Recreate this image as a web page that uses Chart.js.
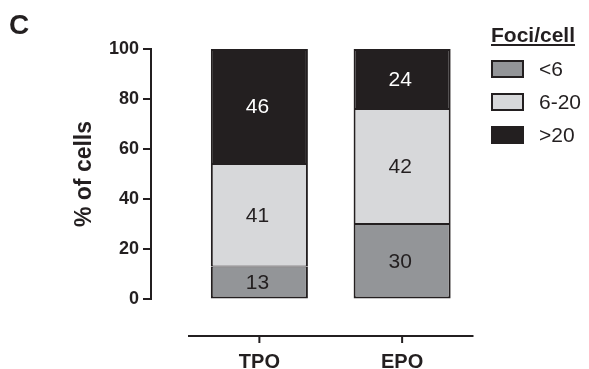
<!DOCTYPE html>
<html>
<head>
<meta charset="utf-8">
<script src="https://cdn.jsdelivr.net/npm/chart.js@4.4.1/dist/chart.umd.min.js"></script>
<style>
  html, body { margin: 0; padding: 0; background: #ffffff; }
  #wrap { width: 589px; height: 369px; }
</style>
</head>
<body>
<div id="wrap"><canvas id="myChart" width="589" height="369"></canvas></div>
<script>
// data
const categories = ["TPO", "EPO"];
const focusGroups = ["<6", "6-20", ">20"];
const lowValues = [13, 30];      // <6 foci/cell
const midValues = [41, 46];      // 6-20 foci/cell (bar heights)
const highValues = [46, 24];     // >20 foci/cell
// numbers printed inside the segments
const lowLabels = ["13", "30"];
const midLabels = ["41", "42"];
const highLabels = ["46", "24"];
const yTicks = [0, 20, 40, 60, 80, 100];

const INK = "#231f20";
const FONT = "'Liberation Sans', Arial, Helvetica, sans-serif";
const segColors = ["#939598", "#d7d8da", "#231f20"];
const segText = [INK, INK, "#ffffff"];

// axes are drawn detached from the plot, like the Prism original
const detachedAxes = {
  id: "detachedAxes",
  afterDraw(chart) {
    const { ctx, chartArea, scales } = chart;
    const y = scales.y, x = scales.x;
    ctx.save();
    ctx.strokeStyle = INK;
    ctx.lineWidth = 2;
    ctx.lineCap = "butt";

    const axisX = 151;
    ctx.beginPath();
    ctx.moveTo(axisX, y.getPixelForValue(100) - 1);
    ctx.lineTo(axisX, y.getPixelForValue(0) + 1);
    ctx.stroke();
    yTicks.forEach(v => {
      const py = y.getPixelForValue(v);
      ctx.beginPath();
      ctx.moveTo(143, py);
      ctx.lineTo(axisX, py);
      ctx.stroke();
    });

    const axisY = 336;
    ctx.beginPath();
    ctx.moveTo(chartArea.left, axisY);
    ctx.lineTo(chartArea.right, axisY);
    ctx.stroke();
    categories.forEach((c, i) => {
      const px = x.getPixelForValue(i);
      ctx.beginPath();
      ctx.moveTo(px, axisY);
      ctx.lineTo(px, axisY + 7);
      ctx.stroke();
    });
    ctx.restore();
  }
};

const segmentLabels = {
  id: "segmentLabels",
  afterDatasetsDraw(chart) {
    const { ctx } = chart;
    const texts = [lowLabels, midLabels, highLabels];
    ctx.save();
    ctx.font = "21px " + FONT;
    ctx.textAlign = "center";
    ctx.textBaseline = "middle";
    chart.data.datasets.forEach((ds, di) => {
      const meta = chart.getDatasetMeta(di);
      meta.data.forEach((bar, i) => {
        const p = bar.getCenterPoint();
        ctx.fillStyle = segText[di];
        ctx.fillText(texts[di][i], p.x - 2, p.y + 1);
      });
    });
    ctx.restore();
  }
};

const sideLegend = {
  id: "sideLegend",
  afterDraw(chart) {
    const { ctx } = chart;
    ctx.save();
    ctx.fillStyle = INK;
    ctx.font = "bold 28px " + FONT;
    ctx.textBaseline = "alphabetic";
    ctx.fillText("C", 9, 34);

    ctx.font = "bold 21px " + FONT;
    const title = "Foci/cell";
    ctx.fillText(title, 491, 42);
    const w = ctx.measureText(title).width;
    ctx.fillRect(491, 44, w, 2);

    ctx.font = "21px " + FONT;
    ctx.textBaseline = "middle";
    chart.data.datasets.forEach((ds, i) => {
      const cy = 69 + i * 33;
      ctx.fillStyle = ds.backgroundColor;
      ctx.fillRect(492, cy - 8, 31, 16);
      ctx.strokeStyle = INK;
      ctx.lineWidth = 2;
      ctx.strokeRect(492, cy - 8, 31, 16);
      ctx.fillStyle = INK;
      ctx.fillText(ds.label, 539, cy + 1);
    });
    ctx.restore();
  }
};

const values = [lowValues, midValues, highValues];
const borders = [
  { top: 1, bottom: 2, left: 2, right: 2 },
  { top: 1, bottom: 1, left: 2, right: 2 },
  { top: 2, bottom: 1, left: 2, right: 2 }
];

new Chart(document.getElementById("myChart"), {
  type: "bar",
  data: {
    labels: categories,
    datasets: focusGroups.map((g, i) => ({
      label: g,
      data: values[i],
      backgroundColor: segColors[i],
      borderColor: INK,
      borderWidth: borders[i],
      borderSkipped: false,
      categoryPercentage: 1,
      barPercentage: 0.68
    }))
  },
  options: {
    responsive: false,
    devicePixelRatio: 1,
    animation: false,
    layout: { padding: { left: 0, right: 115.5, top: 49, bottom: 0 } },
    plugins: {
      legend: { display: false },
      tooltip: { enabled: false }
    },
    scales: {
      x: {
        stacked: true,
        offset: true,
        grid: { display: false },
        border: { display: false },
        ticks: {
          color: INK,
          font: { family: FONT, size: 20, weight: "bold" },
          padding: 43
        },
        afterFit: (scale) => { scale.height = 70; }
      },
      y: {
        stacked: true,
        min: 0,
        max: 100,
        // invisible tick length pushes the labels out to the detached axis
        grid: {
          display: true,
          drawOnChartArea: false,
          drawTicks: true,
          tickLength: 47,
          tickColor: "rgba(0,0,0,0)"
        },
        border: { display: false },
        ticks: {
          stepSize: 20,
          color: INK,
          font: { family: FONT, size: 18, weight: "bold" },
          padding: 2
        },
        title: {
          display: true,
          text: "% of cells",
          color: INK,
          font: { family: FONT, size: 23, weight: "bold" },
          padding: { top: 71, bottom: 0 }
        },
        afterFit: (scale) => { scale.width = 188; }
      }
    }
  },
  plugins: [detachedAxes, segmentLabels, sideLegend]
});
</script>
</body>
</html>
